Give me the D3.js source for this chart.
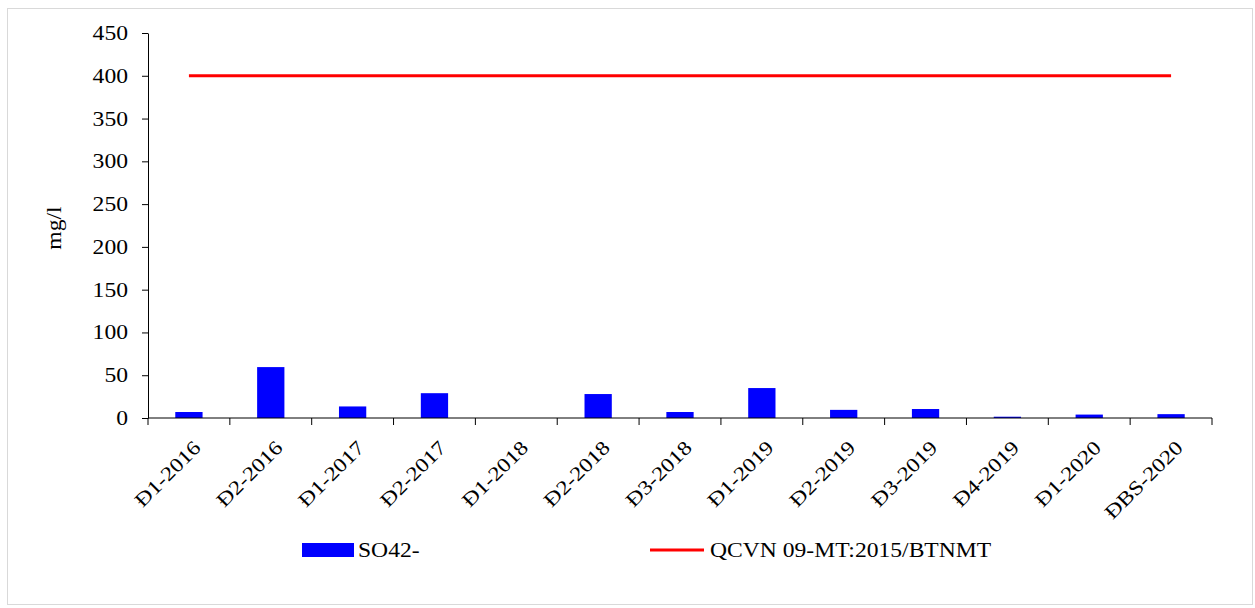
<!DOCTYPE html>
<html>
<head>
<meta charset="utf-8">
<script src="https://cdn.jsdelivr.net/npm/d3@7"></script>
<style>
  body { margin: 0; background: #fff; }
</style>
</head>
<body>
<svg id="canvas"></svg>
<script>
let width = 1255, height = 608
const serif = "'Liberation Serif', 'Times New Roman', serif"
const sx = 1.18 // text in the original is drawn wider along its baseline

// data
const categories = ["Đ1-2016", "Đ2-2016", "Đ1-2017", "Đ2-2017", "Đ1-2018", "Đ2-2018", "Đ3-2018",
    "Đ1-2019", "Đ2-2019", "Đ3-2019", "Đ4-2019", "Đ1-2020", "ĐBS-2020"]
const so4 = [7, 59.5, 13.5, 29, 0, 28, 7, 35, 9.5, 10.5, 1.5, 4, 4.5]
const limit = [400, 400, 400, 400, 400, 400, 400, 400, 400, 400, 400, 400, 400]
const yTicks = [0, 50, 100, 150, 200, 250, 300, 350, 400, 450]
const barName = "SO42-", lineName = "QCVN 09-MT:2015/BTNMT"

let svg = d3.select('#canvas').attr("width", width).attr("height", height)
    .style("font-family", serif)

// chart border
svg.append("rect").attr("x", 7.5).attr("y", 8.5).attr("width", 1245).attr("height", 596)
    .style("fill", "none").style("stroke", "#d9d9d9")

let x = d3.scaleBand().domain(categories).range([148, 1212]).paddingInner(2 / 3).paddingOuter(1 / 3)
let xb = d3.scaleBand().domain(categories).range([148, 1212])
let y = d3.scaleLinear().domain([0, 450]).range([418, 33])

// bars
svg.selectAll(".bar")
    .data(so4)
    .enter()
    .append("rect")
    .attr("x", (d, i) => x(categories[i]))
    .attr("y", d => y(d))
    .attr("width", x.bandwidth())
    .attr("height", d => y(0) - y(d))
    .style("fill", "#0000ff")

// limit line
let line = d3.line().x((d, i) => xb(categories[i]) + xb.bandwidth() / 2).y(d => y(d))
svg.append("path").datum(limit).attr("d", line)
    .style("fill", "none").style("stroke", "#ff0000").style("stroke-width", 3)

// y axis
let yAxis = svg.append("g").attr("transform", "translate(148,0)")
    .call(d3.axisLeft(y).tickValues(yTicks).tickSize(6).tickSizeOuter(0).tickFormat(""))
yAxis.selectAll("line, path").style("stroke", "#000")
svg.selectAll(".ylbl")
    .data(yTicks)
    .enter()
    .append("text")
    .attr("transform", d => "translate(128," + y(d) + ") scale(" + sx + ",1)")
    .attr("text-anchor", "end")
    .attr("dy", "0.35em")
    .style("font-size", "20px")
    .text(d => d)

// x axis with ticks on band edges
let xAxisG = svg.append("g").attr("transform", "translate(0,418)")
xAxisG.append("line").attr("x1", 148).attr("x2", 1212).style("stroke", "#000")
xAxisG.selectAll(".tk")
    .data(categories.concat([null]))
    .enter()
    .append("line")
    .attr("x1", (d, i) => 148 + i * xb.step())
    .attr("x2", (d, i) => 148 + i * xb.step())
    .attr("y1", 0).attr("y2", 7)
    .style("stroke", "#000")
xAxisG.selectAll(".lbl")
    .data(categories)
    .enter()
    .append("text")
    .attr("transform", d => "translate(" + (xb(d) + xb.bandwidth() / 2 + 13) + ",31) rotate(-45) scale(" + sx + ",1)")
    .attr("text-anchor", "end")
    .style("font-size", "20px")
    .text(d => d)

// y label
svg.append("text").attr("transform", "translate(61,228) rotate(-90) scale(" + sx + ",1)")
    .attr("text-anchor", "middle").style("font-size", "20px").text("mg/l")

// legend
svg.append("rect").attr("x", 302).attr("y", 543).attr("width", 52).attr("height", 14).style("fill", "#0000ff")
svg.append("text").attr("transform", "translate(358,557) scale(" + sx + ",1)").style("font-size", "20px").text(barName)
svg.append("line").attr("x1", 650).attr("x2", 704).attr("y1", 550).attr("y2", 550)
    .style("stroke", "#ff0000").style("stroke-width", 3)
svg.append("text").attr("transform", "translate(710,557) scale(" + sx + ",1)").style("font-size", "20px").text(lineName)
</script>
</body>
</html>
